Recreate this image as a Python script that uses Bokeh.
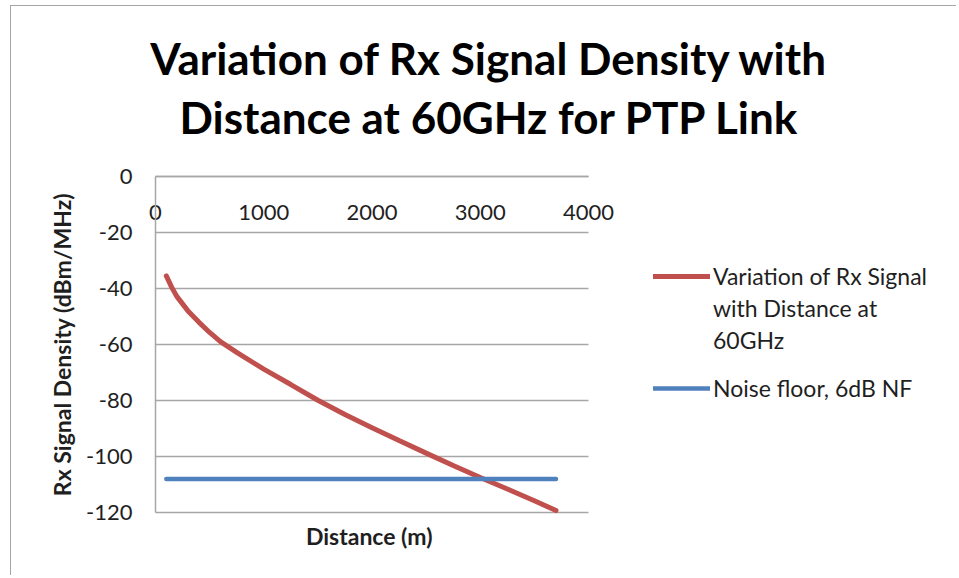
from bokeh.plotting import figure
from bokeh.models import Legend, LegendItem, Range1d, FixedTicker, Label
from bokeh.embed import file_html
from bokeh.resources import INLINE

# ---------------- data ----------------
title_lines = ["Variation of Rx Signal Density with", "Distance at 60GHz for PTP Link"]
x_label = "Distance  (m)"
y_label = "Rx Signal Density (dBm/MHz)"

distance_m = [100, 150, 200, 300, 400, 500, 600, 750, 1000, 1250, 1500, 1750,
              2000, 2250, 2500, 2750, 3000, 3250, 3500, 3700]
rx_density = [-35.5, -39.6, -43.0, -48.0, -52.0, -55.7, -59.0, -62.8, -68.8, -74.3,
              -79.9, -85.0, -89.7, -94.3, -98.8, -103.2, -107.5, -111.6, -115.8, -119.3]

noise_distance_m = [100, 3700]
noise_floor = [-108, -108]

x_ticks = [0, 1000, 2000, 3000, 4000]
y_ticks = [0, -20, -40, -60, -80, -100, -120]

legend_rx_lines = ["Variation of Rx Signal", "with Distance at", "60GHz"]
legend_noise = "Noise floor, 6dB NF"

# ---------------- layout (pixels) ----------------
OX, OY = 11, 6            # canvas origin on the page
W, H = 946, 570           # canvas size
PL, PR, PT, PB = 155, 588, 176, 512   # plot-area edges on the page
FONT = "Lato"
TXT = "#1f1f1f"
GRID = "#a6a6a6"
RED = "#C0504D"
BLUE = "#4F81BD"

x0, x1 = x_ticks[0], x_ticks[-1]
y0, y1 = y_ticks[-1], y_ticks[0]
kx = (PR - PL) / (x1 - x0)
ky = (PB - PT) / (y1 - y0)
x_range = Range1d(x0 - (PL - OX) / kx, x1 + (OX + W - PR) / kx)
y_range = Range1d(y0 - (OY + H - PB) / ky, y1 + (PT - OY) / ky)

p = figure(width=W, height=H, output_backend="svg", toolbar_location=None,
           x_range=x_range, y_range=y_range, min_border=0,
           background_fill_color="white", border_fill_color="white")
p.styles = {"border-left": "1px solid #a6a6a6", "border-top": "1px solid #a6a6a6",
            "margin-left": "10px", "margin-top": "5px"}
p.outline_line_color = None
p.xgrid.visible = False
p.ygrid.visible = False

# horizontal gridlines over the plotted span only
p.segment(x0=x0, x1=x1, y0=y_ticks, y1=y_ticks, line_color=GRID, line_width=1.5)

minus = {v: str(v) for v in y_ticks}

# x axis crossing at y = 0 (top), labels below the line
xa = p.xaxis[0]
xa.fixed_location = 0
xa.bounds = (x0, x1)
xa.ticker = FixedTicker(ticks=x_ticks)
xa.axis_line_color = GRID
xa.axis_line_width = 1.5
xa.major_tick_line_color = None
xa.minor_tick_line_color = None
xa.major_tick_out = 0
xa.major_tick_in = 0
xa.major_label_standoff = 28
xa.major_label_text_font = FONT
xa.major_label_text_font_size = "22px"
xa.major_label_text_color = TXT

ya = p.yaxis[0]
ya.fixed_location = 0
ya.bounds = (y0, y1)
ya.ticker = FixedTicker(ticks=y_ticks)
ya.major_label_overrides = minus
ya.axis_line_color = GRID
ya.axis_line_width = 1.5
ya.major_tick_line_color = None
ya.minor_tick_line_color = None
ya.major_tick_out = 0
ya.major_tick_in = 0
ya.major_label_standoff = 23
ya.major_label_text_font = FONT
ya.major_label_text_font_size = "22px"
ya.major_label_text_color = TXT
ya.axis_label = y_label
ya.axis_label_text_font = FONT
ya.axis_label_text_font_size = "23px"
ya.axis_label_text_font_style = "bold"
ya.axis_label_text_color = TXT
ya.axis_label_standoff = 7

# title lines
for txt, base in ((title_lines[0], 57), (title_lines[1], 116)):
    p.add_layout(Label(x=489 - OX, y=OY + H - base, x_units="screen", y_units="screen",
                       text=txt, text_align="center", text_baseline="alphabetic",
                       text_font=FONT, text_font_size="44px", text_font_style="bold",
                       text_color="black"))

# x axis title below the plot area
p.add_layout(Label(x=(PL + PR) / 2 - OX, y=OY + H - 535, x_units="screen", y_units="screen",
                   text=x_label, text_align="center", text_baseline="middle", text_font=FONT,
                   text_font_size="23px", text_font_style="bold", text_color=TXT))

# series
r_rx = p.line(distance_m, rx_density, line_color=RED, line_width=5, line_cap="round")
r_nf = p.line(noise_distance_m, noise_floor, line_color=BLUE, line_width=4.5, line_cap="round")
r_blank = p.line([], [], line_alpha=0)

leg_common = dict(padding=0, margin=0, spacing=0, border_line_alpha=0,
                  background_fill_alpha=0, glyph_width=57, glyph_height=32,
                  label_height=32, label_standoff=3, label_text_font=FONT,
                  label_text_font_size="23px", label_text_color=TXT)
leg1 = Legend(items=[LegendItem(label=legend_rx_lines[0], renderers=[r_rx]),
                     LegendItem(label=legend_rx_lines[1], renderers=[r_blank]),
                     LegendItem(label=legend_rx_lines[2], renderers=[r_blank])],
              location=(653 - OX, OY + H - 356), **leg_common)
leg2 = Legend(items=[LegendItem(label=legend_noise, renderers=[r_nf])],
              location=(653 - OX, OY + H - 404), **leg_common)
p.add_layout(leg1, "center")
p.add_layout(leg2, "center")

open("out.html", "w").write(file_html(p, INLINE))
